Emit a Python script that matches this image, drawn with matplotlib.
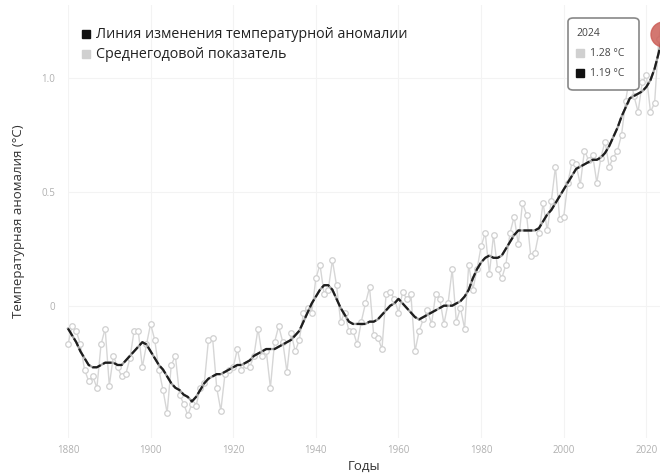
import numpy as np
import matplotlib.pyplot as plt
from matplotlib.patches import FancyBboxPatch, Rectangle

# GISTEMP-style global temperature anomaly, 1880-2024
years = list(range(1880, 2025))

annual_mean = [
    -0.17, -0.09, -0.11, -0.17, -0.28, -0.33, -0.31, -0.36, -0.17, -0.10,
    -0.35, -0.22, -0.27, -0.31, -0.30, -0.23, -0.11, -0.11, -0.27, -0.17,
    -0.08, -0.15, -0.28, -0.37, -0.47, -0.26, -0.22, -0.39, -0.43, -0.48,
    -0.43, -0.44, -0.36, -0.34, -0.15, -0.14, -0.36, -0.46, -0.30, -0.28,
    -0.27, -0.19, -0.28, -0.26, -0.27, -0.22, -0.10, -0.22, -0.20, -0.36,
    -0.16, -0.09, -0.16, -0.29, -0.12, -0.20, -0.15, -0.03, -0.01, -0.03,
    0.12, 0.18, 0.05, 0.07, 0.20, 0.09, -0.07, -0.03, -0.11, -0.11,
    -0.17, -0.07, 0.01, 0.08, -0.13, -0.14, -0.19, 0.05, 0.06, 0.03,
    -0.03, 0.06, 0.03, 0.05, -0.20, -0.11, -0.06, -0.02, -0.08, 0.05,
    0.03, -0.08, 0.01, 0.16, -0.07, -0.01, -0.10, 0.18, 0.07, 0.16,
    0.26, 0.32, 0.14, 0.31, 0.16, 0.12, 0.18, 0.32, 0.39, 0.27,
    0.45, 0.40, 0.22, 0.23, 0.32, 0.45, 0.33, 0.46, 0.61, 0.38,
    0.39, 0.54, 0.63, 0.62, 0.53, 0.68, 0.64, 0.66, 0.54, 0.65,
    0.72, 0.61, 0.65, 0.68, 0.75, 0.90, 1.01, 0.92, 0.85, 0.98,
    1.01, 0.85, 0.89, 1.17, 1.28,
]

smoothed = [
    -0.10, -0.13, -0.16, -0.20, -0.23, -0.26, -0.27, -0.27, -0.26, -0.25,
    -0.25, -0.25, -0.26, -0.26, -0.24, -0.22, -0.20, -0.18, -0.16, -0.17,
    -0.20, -0.23, -0.26, -0.28, -0.31, -0.34, -0.36, -0.37, -0.39, -0.40,
    -0.42, -0.40, -0.37, -0.34, -0.32, -0.31, -0.30, -0.30, -0.29, -0.28,
    -0.27, -0.26, -0.26, -0.25, -0.24, -0.22, -0.21, -0.20, -0.19, -0.19,
    -0.19, -0.18, -0.17, -0.16, -0.15, -0.13, -0.11, -0.07, -0.03, 0.01,
    0.04, 0.07, 0.09, 0.09, 0.07, 0.03, -0.01, -0.04, -0.07, -0.08,
    -0.08, -0.08, -0.08, -0.07, -0.07, -0.06, -0.04, -0.02, 0.00, 0.01,
    0.03, 0.01, -0.01, -0.03, -0.05, -0.06, -0.05, -0.04, -0.03, -0.02,
    -0.01, 0.00, 0.00, 0.00, 0.01, 0.02, 0.04, 0.07, 0.12, 0.16,
    0.19, 0.21, 0.22, 0.21, 0.21, 0.22, 0.25, 0.28, 0.31, 0.33,
    0.33, 0.33, 0.33, 0.33, 0.34, 0.37, 0.40, 0.42, 0.45, 0.48,
    0.51, 0.54, 0.57, 0.60, 0.61, 0.62, 0.63, 0.64, 0.64, 0.65,
    0.67, 0.70, 0.74, 0.78, 0.83, 0.87, 0.91, 0.92, 0.93, 0.94,
    0.96, 0.99, 1.04, 1.11, 1.19,
]

x_ticks = [1880, 1900, 1920, 1940, 1960, 1980, 2000, 2020]
y_ticks = [0, 0.5, 1.0]
y_tick_labels = ["0", "0.5", "1.0"]

plt.rcParams['font.family'] = ['Open Sans', 'DejaVu Sans']

fig = plt.figure(figsize=(6.6, 4.75), dpi=100)
ax = fig.add_axes([0.103, 0.078, 0.897, 0.912])

# 2024 sits just past the right edge, like in the source screenshot
ax.set_xlim(1880, 2023.3)
ax.set_ylim(-0.58, 1.32)

for s in ax.spines.values():
    s.set_visible(False)
ax.grid(True, color='#f3f3f3', lw=0.8)
ax.set_axisbelow(True)

ax.plot(years, annual_mean, color='#d6d6d6', lw=1, marker='o', ms=4,
        mfc='white', mec='#d0d0d0', mew=0.9, zorder=2, clip_on=False)
ax.plot(years, smoothed, color='#a0a0a0', lw=1.6, zorder=3, clip_on=False)
ax.plot(years, smoothed, color='#1e1e1e', lw=1.6, dashes=(4, 1.2), zorder=3,
        clip_on=False)
ax.plot([years[-1]], [smoothed[-1]], 'o', ms=18, color='#cc5f58', alpha=0.85,
        clip_on=False, zorder=4)

ax.set_xticks(x_ticks)
ax.set_yticks(y_ticks)
ax.set_yticklabels(y_tick_labels)
ax.tick_params(length=0, labelsize=7, labelcolor='#b0b0b0')
ax.tick_params(axis='y', pad=9)
ax.tick_params(axis='x', pad=5)

ax.set_xlabel('Годы', fontsize=9.5, color='#333333', labelpad=3)
ax.set_ylabel('Температурная аномалия (°C)', fontsize=9.5, color='#333333', labelpad=12)

# legend (top left)
fig.patches.append(Rectangle((82 / 660, 1 - 38 / 475), 8 / 660, 8 / 475,
                             transform=fig.transFigure, color='#111111'))
fig.patches.append(Rectangle((82 / 660, 1 - 58 / 475), 8 / 660, 8 / 475,
                             transform=fig.transFigure, color='#d0d0d0'))
fig.text(96 / 660, 1 - 34 / 475, 'Линия изменения температурной аномалии',
         fontsize=10.3, color='#222222', va='center')
fig.text(96 / 660, 1 - 54 / 475, 'Среднегодовой показатель',
         fontsize=10.3, color='#222222', va='center')

# tooltip box
box = FancyBboxPatch((568 / 660, 1 - 90 / 475), 71 / 660, 72 / 475,
                     boxstyle='round,pad=0,rounding_size=0.008',
                     transform=fig.transFigure, fc='white', ec='#888888', lw=1.2)
fig.patches.append(box)
fig.text(576 / 660, 1 - 34 / 475, str(years[-1]), fontsize=7.5, color='#444444', va='center')
fig.patches.append(Rectangle((576 / 660, 1 - 57 / 475), 8 / 660, 8 / 475,
                             transform=fig.transFigure, color='#d0d0d0'))
fig.text(590 / 660, 1 - 53 / 475, f'{annual_mean[-1]:.2f} °C', fontsize=7.5,
         color='#444444', va='center')
fig.patches.append(Rectangle((576 / 660, 1 - 77 / 475), 8 / 660, 8 / 475,
                             transform=fig.transFigure, color='#111111'))
fig.text(590 / 660, 1 - 73 / 475, f'{smoothed[-1]:.2f} °C', fontsize=7.5,
         color='#444444', va='center')

fig.savefig('out.png', dpi=100)
